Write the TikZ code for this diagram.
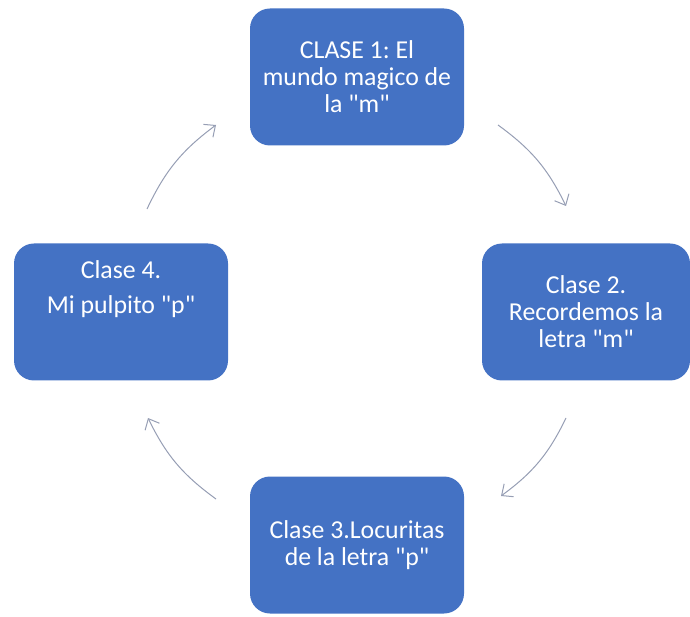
\documentclass[tikz,border=0pt]{standalone}
\usepackage{fontspec}
\setmainfont{Carlito}[Ligatures=TeXOff]
\usetikzlibrary{arrows.meta}
\definecolor{cajaazul}{HTML}{4472C4}
\definecolor{flechagris}{RGB}{150,158,180}
\tikzset{
    clase/.style={fill=cajaazul, text=white, rounded corners=10pt, minimum width=107pt, minimum height=68.5pt, align=center, inner sep=2pt, font=\fontsize{12.9}{13.5}\selectfont\frenchspacing},
    flecha/.style={draw=flechagris, line width=0.5pt, -{Straight Barb[length=4.5pt,width=8pt]}}
}
\begin{document}
\begin{tikzpicture}[x=0.5pt, y=0.5pt]
                \useasboundingbox (0, 0) rectangle (690, 616);
                \node(clase1) at(357, 539) [clase] {CLASE 1: El\\mundo magico de\\la "m"};
                \node(clase2) at(586, 304) [clase, minimum width=104pt] {Clase 2.\\Recordemos la\\letra "m"};
                \node(clase3) at(357, 71) [clase] {Clase 3.Locuritas\\de la letra "p"};
                \node(clase4) at(121, 304) [clase] {Clase 4.\\[4pt]Mi pulpito "p"\\[11.5pt]\mbox{}};
                % extremos de las flechas
                \coordinate(c4a1) at(147, 407);
                \coordinate(c1) at(216, 491);
                \coordinate(c1a2) at(498, 491);
                \coordinate(c2) at(566, 410);
                \coordinate(c2a3) at(566, 198);
                \coordinate(c3) at(501, 120);
                \coordinate(c3a4) at(216, 117);
                \coordinate(c4) at(148, 198);
                \draw[flecha] (c4a1) to[bend left=14] (c1);
                \draw[flecha] (c1a2) to[bend left=14] (c2);
                \draw[flecha] (c2a3) to[bend left=14] (c3);
                \draw[flecha] (c3a4) to[bend left=14] (c4);
            \end{tikzpicture}
\end{document}
